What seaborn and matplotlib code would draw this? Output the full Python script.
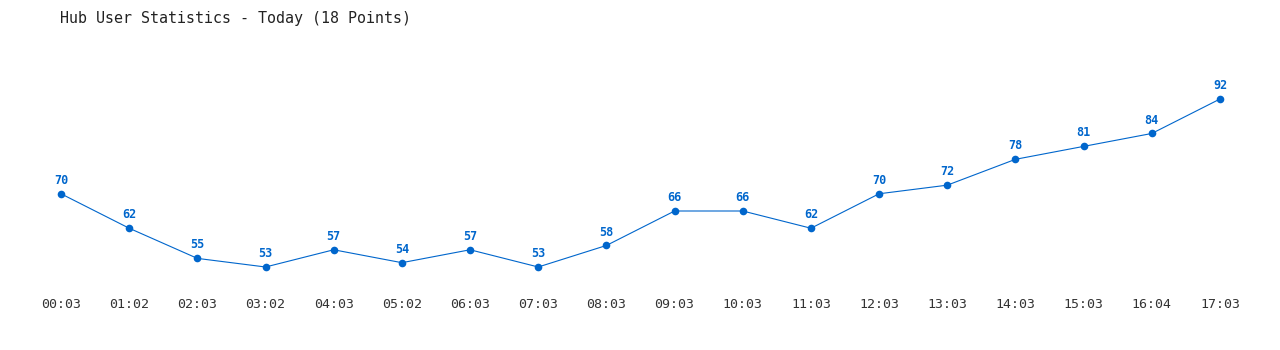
import matplotlib
matplotlib.use("Agg")
import matplotlib.pyplot as plt
import seaborn as sns
import pandas as pd

times = ["00:03", "01:02", "02:03", "03:02", "04:03", "05:02", "06:03", "07:03", "08:03",
         "09:03", "10:03", "11:03", "12:03", "13:03", "14:03", "15:03", "16:04", "17:03"]
users = [70, 62, 55, 53, 57, 54, 57, 53, 58, 66, 66, 62, 70, 72, 78, 81, 84, 92]
title = "Hub User Statistics - Today (18 Points)"

sns.set_style("white")
plt.rcParams['font.family'] = ['DejaVu Sans Mono', 'DejaVu Sans']

df = pd.DataFrame({"idx": range(len(times)), "users": users})
color = "#0066cc"

W, H = 1280, 350
fig = plt.figure(figsize=(W / 100, H / 100), dpi=100)
top_px, bot_px = 40, 285
ax = fig.add_axes([0, (H - bot_px) / H, 1, (bot_px - top_px) / H])

sns.lineplot(data=df, x="idx", y="users", ax=ax, color=color, linewidth=0.8,
             marker="o", markersize=5.5, markeredgewidth=0, markerfacecolor=color)

# axis limits mapped so point 0 sits at px 61 and point 17 at px 1220
ppi = (1220 - 61) / 17
ax.set_xlim(-61 / ppi, 17 + (W - 1220) / ppi)
ppv = (267 - 99) / (92 - 53)
ax.set_ylim(53 - (bot_px - 267) / ppv, 53 + (267 - top_px) / ppv)

for i, v in enumerate(users):
    ax.annotate(str(v), (i, v), xytext=(0, 5), textcoords="offset points",
                ha="center", va="bottom", color=color, fontsize=8.5, fontweight="bold")

ax.set_xticks(range(len(times)))
ax.set_xticklabels(times, fontsize=9.5, color="#333333")
ax.tick_params(axis="x", length=0, pad=9)
ax.set_yticks([])
ax.set_xlabel("")
ax.set_ylabel("")
for s in ax.spines.values():
    s.set_visible(False)

fig.text(60 / W, 1 - 18 / H, title, ha="left", va="center", fontsize=10.8, color="#222222")

fig.savefig("out.png", dpi=100)
